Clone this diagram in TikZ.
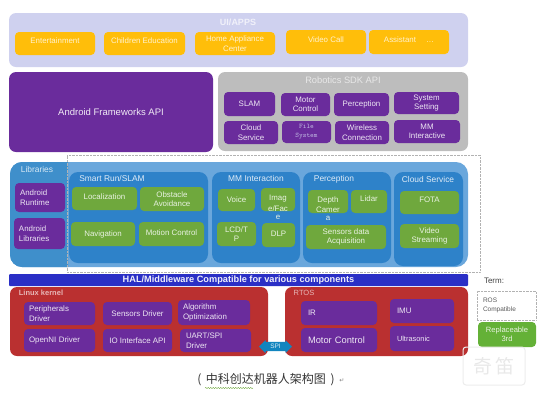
\documentclass[tikz,border=0pt]{standalone}
\usepackage{fontspec}
\setmainfont{Liberation Sans}
\newfontfamily\cjk{Noto Sans CJK SC}
\newfontfamily\symb{DejaVu Sans}
\usetikzlibrary{shapes.arrows, decorations.pathmorphing}
\definecolor{lavender}{HTML}{CFD1EF}
\definecolor{amber}{HTML}{FFBE0A}
\definecolor{grape}{HTML}{6A2C9C}
\definecolor{ashgrey}{HTML}{BDBDBD}
\definecolor{skylight}{HTML}{6AA7DC}
\definecolor{skydark}{HTML}{3F8FCB}
\definecolor{subblue}{HTML}{2E82C9}
\definecolor{leaf}{HTML}{6FA83D}
\definecolor{halblue}{HTML}{2A2FC6}
\definecolor{brick}{HTML}{BA3030}
\definecolor{spiblue}{HTML}{1285BF}

\begin{document}
\begin{tikzpicture}[
  x=1pt, y=-1pt,
  sz/.style 2 args={minimum width=#1pt, minimum height=#2pt},
  panel/.style={rounded corners=7pt, inner sep=0pt},
  cell/.style={rounded corners=4pt, inner sep=0pt, align=center, font=\fontsize{7.9}{9.6}\selectfont, text=white},
  orangebox/.style={cell, fill=amber, text=white!80!amber},
  purplebox/.style={cell, fill=grape, text=white!88!grape},
  greenbox/.style={cell, fill=leaf, text=white!85!leaf},
  kernelbox/.style={purplebox, align=left},
  title/.style={inner sep=0pt, font=\fontsize{8.4}{10}\selectfont, text=white!85!subblue}
]
\useasboundingbox (0,0) rectangle (538,400);

% top layer
\node[panel, fill=lavender, sz={459}{54}] (uiapps) at (238.5,40) {};
\node[title, text=white!70!lavender, font=\bfseries\fontsize{9}{10}\selectfont] (uititle) at (238,22) {UI/APPS};
\node[orangebox, sz={80}{23}, text depth=5pt] (enter) at (55,43.5) {Entertainment};
\node[orangebox, sz={81}{23}, text depth=5pt] (child) at (144.5,43.5) {Children Education};
\node[orangebox, sz={80}{23}] (home) at (235,43.5) {Home Appliance\\Center};
\node[orangebox, sz={80}{24}, text depth=5pt] (video) at (326,42) {Video Call};
\node[orangebox, sz={80}{24}, text depth=5pt] (assist) at (409,42) {Assistant \quad\ldots};

% framework and sdk
\node[panel, fill=grape, sz={204}{80}, font=\fontsize{9.5}{12}\selectfont, text=white!90!grape] (android) at (111,112) {Android Frameworks API};
\node[panel, fill=ashgrey, sz={250}{79}] (sdk) at (343,111.5) {};
\node[title, font=\fontsize{9.3}{10}\selectfont, text=white!65!ashgrey] (sdktitle) at (343,80) {Robotics SDK API};
\node[purplebox, sz={51}{24}] (slam) at (249.5,104) {SLAM};
\node[purplebox, sz={49}{23}] (motor) at (305.5,104.5) {Motor\\Control};
\node[purplebox, sz={55}{23}] (percep) at (361.5,104.5) {Perception};
\node[purplebox, sz={65}{22}] (system) at (426.5,103) {System\\Setting};
\node[purplebox, sz={54}{23}] (cloud) at (251,132.5) {Cloud\\Service};
\node[purplebox, sz={49}{22}, font=\ttfamily\fontsize{7}{9.3}\selectfont, text=lavender!85!grape] (filesys) at (306.5,132) {File\\System};
\node[purplebox, sz={54}{23}] (wireless) at (362,132.5) {Wireless\\Connection};
\node[purplebox, sz={66}{23}] (mminter) at (427,131.5) {MM\\Interactive};

% libraries layer
\node[panel, rounded corners=12pt, fill=skylight, sz={458}{105}] (libpanel) at (239,214.5) {};
\fill[skydark] (68,162) [rounded corners=12pt] -- (10,162) -- (10,267) [sharp corners] -- (68,267) -- cycle;
\node[title, text=white!80!skydark] (libtitle) at (37,169) {Libraries};
\node[purplebox, sz={50}{29}, align=left, text width=40pt] (runtime) at (40,197.5) {Android\\Runtime};
\node[purplebox, sz={51}{31}, align=left, text width=41pt] (libs) at (39.5,233.5) {Android\\Libraries};

\node[panel, rounded corners=9pt, fill=subblue, sz={139}{91}] (smart) at (138.5,217.5) {};
\node[panel, rounded corners=9pt, fill=subblue, sz={88}{91}] (mm) at (256,217.5) {};
\node[panel, rounded corners=9pt, fill=subblue, sz={88}{91}] (perc) at (347,217.5) {};
\node[panel, rounded corners=9pt, fill=subblue, sz={69}{94}] (cloudsvc) at (428.5,219) {};
\node[title] (smarttitle) at (112,178) {Smart Run/SLAM};
\node[title] (mmtitle) at (256,178) {MM Interaction};
\node[title] (perctitle) at (334,179) {Perception};
\node[title] (cloudtitle) at (428,179) {Cloud Service};

\node[greenbox, sz={65}{23}, text depth=3pt] (local) at (104.5,198.5) {Localization};
\node[greenbox, sz={64}{24}] (obstacle) at (172,199) {Obstacle\\Avoidance};
\node[greenbox, sz={64}{24}] (navi) at (103,234) {Navigation};
\node[greenbox, sz={65}{24}, text depth=3pt] (motion) at (171.5,234) {Motion Control};
\node[greenbox, sz={37}{22}] (voice) at (236.5,200) {Voice};
\node[greenbox, sz={34}{23}] (image) at (278,199.5) {\raisebox{-20pt}[0pt][0pt]{\shortstack{Imag\\[0.5pt]e/Fac\\[0.5pt]e}}};
\node[greenbox, sz={39}{24}] (lcd) at (236.5,234) {LCD/T\\P};
\node[greenbox, sz={33}{24}, text depth=3pt] (dlp) at (278.5,235) {DLP};
\node[greenbox, sz={40}{23}] (depth) at (328,201.5) {\raisebox{-19pt}[0pt][0pt]{\shortstack{Depth\\[0.5pt]Camer\\[0.5pt]a}}};
\node[greenbox, sz={36}{23}, text depth=5pt] (lidar) at (369,201.5) {Lidar};
\node[greenbox, sz={80}{24}] (sensors) at (346,237) {Sensors data\\Acquisition};
\node[greenbox, sz={59}{23}, text depth=5pt] (fota) at (429.5,202.5) {FOTA};
\node[greenbox, sz={59}{24}] (videostr) at (429.5,236) {Video\\Streaming};
\node[draw=gray!60, densely dotted, inner sep=0pt, sz={413}{117}] (dotframe) at (273.5,213.5) {};

% hal
\node[inner sep=0pt, fill=halblue, rounded corners=1pt, sz={459}{12}, text=white!92!halblue, font=\bfseries\fontsize{9.2}{10}\selectfont] (hal) at (238.5,280) {HAL/Middleware Compatible for various components};

% kernel layer
\node[panel, fill=brick, sz={258}{69}] (linux) at (139,321.5) {};
\node[panel, fill=brick, sz={183}{69}] (rtos) at (376.5,321.5) {};
\node[title, text=brick!35!white, font=\bfseries\fontsize{7.5}{9}\selectfont] (linuxtitle) at (41,293) {Linux kernel};
\node[title, text=brick!35!white, font=\fontsize{7.5}{9}\selectfont] (rtostitle) at (304,293) {RTOS};
\node[kernelbox, sz={71}{23}, text width=61pt] (periph) at (59.5,313.5) {Peripherals\\Driver};
\node[kernelbox, sz={69}{23}, align=center] (sensdrv) at (137.5,313.5) {Sensors Driver};
\node[kernelbox, sz={72}{25}, text width=62pt] (algo) at (214,312.5) {Algorithm\\Optimization};
\node[kernelbox, sz={71}{23}, text width=61pt] (openni) at (59.5,340.5) {OpenNI Driver};
\node[kernelbox, sz={69}{23}, align=center] (iodrv) at (137.5,340.5) {IO Interface API};
\node[kernelbox, sz={71}{23}, text width=59pt] (uart) at (215.5,340.5) {UART/SPI\\Driver};
\node[kernelbox, sz={76}{24}, text width=62pt] (irbox) at (339,313) {IR};
\node[kernelbox, sz={76}{24}, text width=62pt, font=\fontsize{9.3}{10}\selectfont] (motorctl) at (339,340) {Motor Control};
\node[kernelbox, sz={64}{24}, text width=50pt] (imu) at (422,311) {IMU};
\node[kernelbox, sz={64}{25}, text width=50pt, font=\fontsize{7.4}{9}\selectfont] (ultra) at (422,338.5) {Ultrasonic};
\node[double arrow, double arrow head extend=1pt, fill=spiblue, inner sep=0pt, minimum height=33pt, minimum width=13pt, text=white!85!spiblue, font=\fontsize{6.5}{7}\selectfont] (spi) at (275.5,346.5) {SPI};

% legend
\node[inner sep=0pt, text=black!75, font=\fontsize{8}{9}\selectfont] (term) at (494,281) {Term:};
\node[draw=gray!60, densely dotted, inner sep=0pt, sz={59}{29}, text width=47pt, align=left, text=black!65, font=\fontsize{6.5}{9}\selectfont] (roscomp) at (506.5,305.5) {ROS\\Compatible};
\node[cell, fill=leaf!90!green, sz={58}{25}, font=\fontsize{7.6}{9.5}\selectfont, text=white!85!leaf] (replace) at (507,334.5) {Replaceable\\3rd};

% watermark
\node[draw=gray!15, rounded corners=3pt, line width=1pt, inner sep=0pt, sz={62}{38}, text=gray!18, font=\cjk\fontsize{19}{20}\selectfont] (mark) at (494,366) {奇\,笛};

% caption
\node[inner sep=0pt, text=black!80, font=\cjk\fontsize{12}{14}\selectfont] (caption) at (266,380) {(\, 中科创达机器人架构图\, )};
\node[inner sep=0pt, text=gray, font=\symb\fontsize{6}{7}\selectfont] (returnmark) at (342,381) {↵};
\coordinate (wavya) at (205,388);
\coordinate (wavyb) at (253,388);
\draw[leaf, line width=0.4pt, decorate, decoration={snake, amplitude=0.6pt, segment length=2.5pt}] (wavya) -- (wavyb);
\end{tikzpicture}
\end{document}
